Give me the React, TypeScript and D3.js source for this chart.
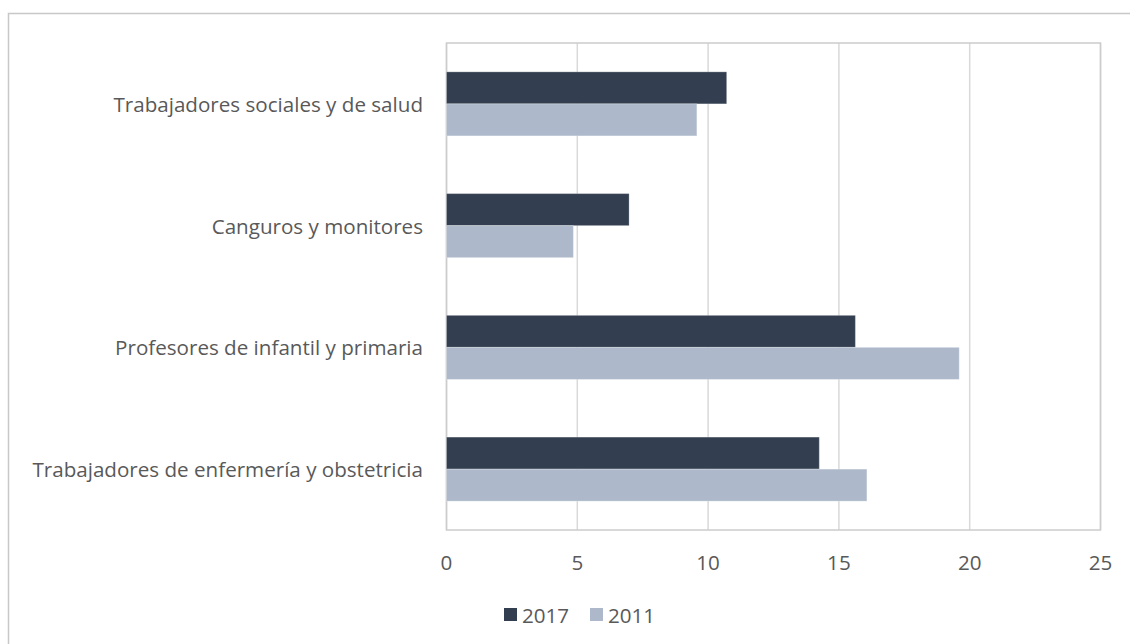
import React from "react";
import * as d3 from "d3";

const categories = [
  "Trabajadores sociales y de salud",
  "Canguros y monitores",
  "Profesores de infantil y primaria",
  "Trabajadores de enfermería y obstetricia",
];
const series2017 = [10.71, 6.98, 15.63, 14.25];
const series2011 = [9.57, 4.85, 19.6, 16.07];
const seriesNames = ["2017", "2011"];
const xTicks = [0, 5, 10, 15, 20, 25];

const colors = ["#333f50", "#adb9ca"];
const textColor = "#595959";
const font = "'Open Sans', sans-serif";
const fontSize = 20.6;

export default function App() {
  const W = 1130;
  const H = 644;
  const plot = { left: 446.5, right: 1100.5, top: 43, bottom: 530 };

  const x = d3.scaleLinear().domain([0, 25]).range([plot.left, plot.right]);
  const y = d3
    .scaleBand<string>()
    .domain(categories)
    .range([plot.top, plot.bottom])
    .paddingInner(0.474)
    .paddingOuter(0.237);
  const sub = d3
    .scaleBand<string>()
    .domain(seriesNames)
    .range([0, y.bandwidth()]);

  const values = [series2017, series2011];

  return (
    <svg
      width={W}
      height={H}
      style={{ position: "absolute", left: 0, top: 0, background: "#fff" }}
    >
      {/* outer chart border */}
      <rect x={8.5} y={13.5} width={W} height={H} fill="none" stroke="#c8c8c8" strokeWidth={1.5} />

      {/* gridlines */}
      {xTicks.map((t) => (
        <line
          key={"g" + t}
          x1={x(t)}
          x2={x(t)}
          y1={plot.top}
          y2={plot.bottom}
          stroke="#d9d9d9"
          strokeWidth={1.5}
        />
      ))}
      {/* plot box */}
      <rect
        x={plot.left}
        y={plot.top}
        width={plot.right - plot.left}
        height={plot.bottom - plot.top}
        fill="none"
        stroke="#cccccc"
        strokeWidth={1.5}
      />

      {/* bars */}
      {categories.map((c, i) =>
        seriesNames.map((s, j) => (
          <rect
            key={c + s}
            x={x(0)}
            y={(y(c) as number) + (sub(s) as number)}
            width={x(values[j][i]) - x(0)}
            height={sub.bandwidth()}
            fill={colors[j]}
            stroke="#ffffff"
            strokeOpacity={0.25}
            strokeWidth={1}
          />
        ))
      )}

      {/* category labels */}
      {categories.map((c) => (
        <text
          key={"l" + c}
          x={423}
          y={(y(c) as number) + y.bandwidth() / 2}
          textAnchor="end"
          dominantBaseline="central"
          fill={textColor}
          fontFamily={font}
          fontSize={fontSize}
        >
          {c}
        </text>
      ))}

      {/* x tick labels */}
      {xTicks.map((t) => (
        <text
          key={"t" + t}
          x={x(t)}
          y={562}
          textAnchor="middle"
          dominantBaseline="central"
          fill={textColor}
          fontFamily={font}
          fontSize={fontSize}
        >
          {t}
        </text>
      ))}

      {/* legend */}
      {seriesNames.map((s, j) => {
        const lx = j === 0 ? 504 : 590;
        return (
          <g key={"lg" + s}>
            <rect x={lx} y={608} width={13} height={13} fill={colors[j]} />
            <text
              x={lx + 18}
              y={615}
              dominantBaseline="central"
              fill={textColor}
              fontFamily={font}
              fontSize={fontSize}
            >
              {s}
            </text>
          </g>
        );
      })}
    </svg>
  );
}
